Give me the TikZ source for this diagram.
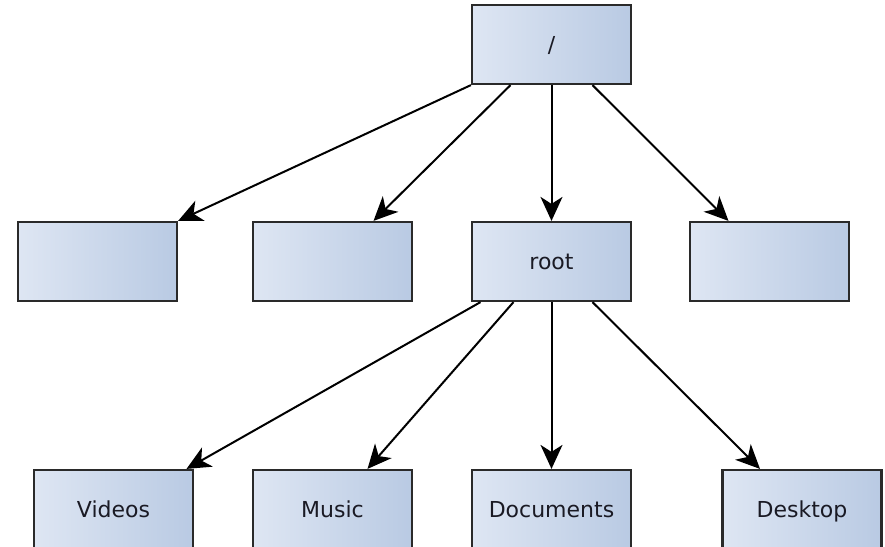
\documentclass[tikz,border=0pt]{standalone}
\usepackage{fontspec}
\setmainfont{DejaVu Sans}
\usetikzlibrary{arrows.meta, calc}
\definecolor{boxleft}{HTML}{DEE6F3}
\definecolor{boxright}{HTML}{B9CAE3}
\definecolor{boxline}{HTML}{2A2A2A}
\definecolor{boxtext}{HTML}{1A1A24}
\tikzset{
    dirbox/.style={shape=rectangle, draw=boxline, line width=1.1pt,
        left color=boxleft, right color=boxright,
        minimum width=79.5pt, minimum height=39.5pt,
        text height=0.9em, text depth=0.1em, text=boxtext,
        font=\fontsize{11}{13}\selectfont},
    link/.style={line width=1pt, -{Stealth[length=12pt, width=11pt, inset=3.5pt]}}}

\begin{document}
\begin{tikzpicture}[x=0.5pt, y=-0.5pt]

                    \useasboundingbox (0,0) rectangle (885,547);

                    \node[dirbox] (top) at (551.5,44.5) {/};

                    \node[dirbox] (a) at (97.5,261.5) {};
                    \node[dirbox] (b) at (332.5,261.5) {};
                    \node[dirbox] (root) at (551.5,261.5) {root};
                    \node[dirbox] (c) at (769.5,261.5) {};

                    \node[dirbox] (videos) at (113.5,509.5) {Videos};
                    \node[dirbox] (music) at (332.5,509.5) {Music};
                    \node[dirbox] (documents) at (551.5,509.5) {Documents};
                    \node[dirbox] (desktop) at (802,509.5) {Desktop};

                    \draw[link] (top.south west) -- (a.north east);
                    \draw[link] ([xshift=-20.5pt]top.south) -- ([xshift=20.5pt]b.north);
                    \draw[link] (top.south) -- (root.north);
                    \draw[link] ([xshift=20.5pt]top.south) -- ([xshift=-20.5pt]c.north);

                    \draw[link] ([xshift=-35.5pt]root.south) -- ([xshift=36.5pt]videos.north);
                    \draw[link] ([xshift=-19pt]root.south) -- ([xshift=17.5pt]music.north);
                    \draw[link] (root.south) -- (documents.north);
                    \draw[link] ([xshift=20.5pt]root.south) -- ([xshift=-21pt]desktop.north);

                \end{tikzpicture}
\end{document}
